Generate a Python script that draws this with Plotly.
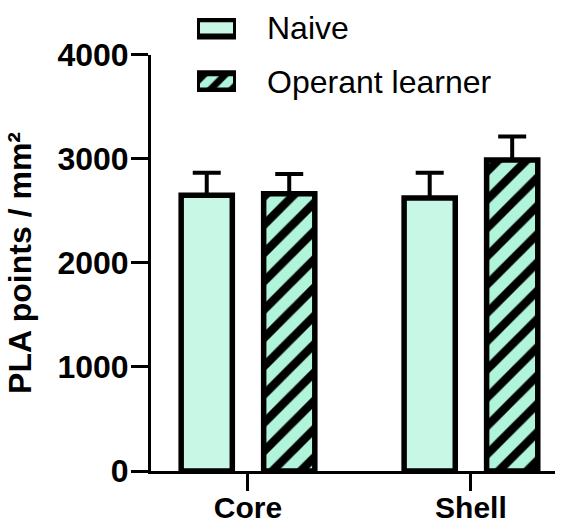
import plotly.graph_objects as go

# Data
regions = ["Core", "Shell"]
naive_mean = [2650, 2625]
naive_sem = [217, 243]
operant_mean = [2665, 2990]
operant_sem = [190, 225]
legend_labels = ["Naive", "Operant learner"]
y_ticks = [0, 1000, 2000, 3000, 4000]

W, H = 566, 523
ML, MR, MT, MB = 151, 11, 10, 51.5
PLOT_W = W - ML - MR
PLOT_H = H - MT - MB
MAIN_TOP_PX = 55  # pixel row of the top of the value axis


def py(px):
    """pixel row -> paper y"""
    return (H - MB - px) / PLOT_H


def pxx(px):
    """pixel column -> paper x"""
    return (px - ML) / PLOT_W


NAIVE_FILL = "#C8F7E5"
OPERANT_FILL = "#B0F4DA"
FONT = "Liberation Sans, Arial, sans-serif"

fig = go.Figure()

bar_line = dict(color="black", width=5.5)
err_style = dict(type="data", symmetric=False, color="black", thickness=4, width=14)
hatch = dict(shape="/", fgcolor="black", fgopacity=1, bgcolor=OPERANT_FILL,
             size=20, solidity=0.42, fillmode="replace")

fig.add_trace(go.Bar(
    x=regions, y=naive_mean, name=legend_labels[0],
    marker=dict(color=NAIVE_FILL, line=bar_line),
    error_y=dict(array=naive_sem, arrayminus=[0] * len(naive_sem), **err_style),
    showlegend=False,
))
fig.add_trace(go.Bar(
    x=regions, y=operant_mean, name=legend_labels[1],
    marker=dict(color=OPERANT_FILL, line=bar_line, pattern=hatch),
    error_y=dict(array=operant_sem, arrayminus=[0] * len(operant_sem), **err_style),
    showlegend=False,
))

# Legend swatches drawn as short horizontal bars on their own small axes
sw_line = dict(color="black", width=6)
fig.add_trace(go.Bar(
    x=[1], y=[0], orientation="h", xaxis="x2", yaxis="y2", width=0.32,
    marker=dict(color=NAIVE_FILL, line=sw_line), showlegend=False,
    hoverinfo="skip", cliponaxis=False,
))
fig.add_trace(go.Bar(
    x=[1], y=[1], orientation="h", xaxis="x2", yaxis="y2", width=0.32,
    marker=dict(color=OPERANT_FILL, line=sw_line,
                pattern=dict(hatch, size=15, solidity=0.45)),
    showlegend=False, hoverinfo="skip", cliponaxis=False,
))

leg_top, leg_bot = 18, 92
row0, row1 = 28, 82
unit = row1 - row0
fig.update_layout(
    xaxis2=dict(domain=[pxx(197), pxx(236)], range=[0, 1], anchor="y2",
                visible=False, fixedrange=True),
    yaxis2=dict(domain=[py(leg_bot), py(leg_top)],
                range=[1 + (leg_bot - row1) / unit, -(row0 - leg_top) / unit],
                anchor="x2", visible=False, fixedrange=True),
)

for label, row in zip(legend_labels, [row0, row1]):
    fig.add_annotation(
        x=pxx(265), y=py(row), xref="paper", yref="paper",
        text=label, showarrow=False, xanchor="left", yanchor="middle",
        font=dict(family=FONT, size=32, color="black"),
    )

fig.update_layout(
    width=W, height=H,
    margin=dict(l=ML, r=MR, t=MT, b=MB, autoexpand=False),
    paper_bgcolor="white", plot_bgcolor="white",
    barmode="group", bargap=0.26, bargroupgap=0.38,
    showlegend=False,
    font=dict(family=FONT, color="black"),
    xaxis=dict(
        type="category", categoryorder="array", categoryarray=regions,
        range=[-0.435, 1.377],
        showline=True, linecolor="black", linewidth=3,
        ticks="outside", ticklen=17, tickwidth=3, tickcolor="black",
        ticklabelstandoff=-9,
        tickfont=dict(family=FONT, size=30, weight="bold", color="black"),
        showgrid=False, zeroline=False, automargin=False,
    ),
    yaxis=dict(
        domain=[0, py(MAIN_TOP_PX)],
        range=[0, 4000], tickvals=y_ticks,
        showline=True, linecolor="black", linewidth=3,
        ticks="outside", ticklen=17, tickwidth=3, tickcolor="black",
        ticklabelstandoff=-4,
        tickfont=dict(family=FONT, size=32, weight="bold", color="black"),
        showgrid=False, zeroline=False, automargin=False,
        title=dict(text="PLA points / mm²", standoff=17,
                   font=dict(family=FONT, size=32, weight="bold", color="black")),
    ),
)

fig.write_html("out.html")
